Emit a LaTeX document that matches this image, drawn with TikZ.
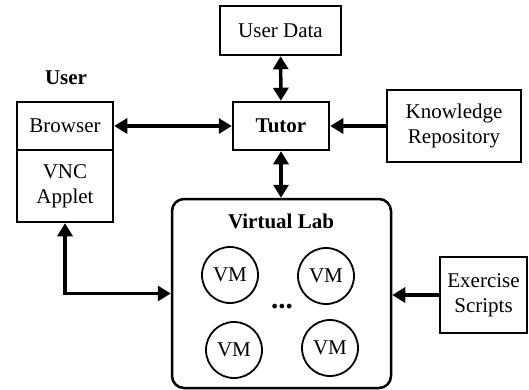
\documentclass[tikz,border=0pt]{standalone}
\usepackage{fontspec}
\setmainfont{Liberation Serif}
\usepackage{tikz}
\usetikzlibrary{arrows.meta}

\begin{document}
\begin{tikzpicture}[x=1pt, y=-1pt,
    every node/.style={font=\fontsize{21}{25}\selectfont, inner sep=0pt},
    box/.style={draw, line width=2.5pt, align=center},
    vm/.style={draw, circle, line width=1.8pt, minimum size=56pt},
    link/.style={line width=3.5pt, {Triangle[length=13pt,width=15pt]}-{Triangle[length=13pt,width=15pt]}},
    feed/.style={line width=3.5pt, -{Triangle[length=13pt,width=15pt]}}]
    \useasboundingbox (0, 0) rectangle (529, 389);
    \node [box, minimum width=121pt, minimum height=49pt] (data) at (280.5, 30.5) {User Data};
    \node [font=\fontsize{21}{25}\selectfont\bfseries] (user) at (66, 78) {User};
    \node [box, minimum width=96pt, minimum height=48pt] (browser) at (65, 126) {Browser};
    \node [box, minimum width=96pt, minimum height=72pt] (applet) at (65, 186) {VNC\\Applet};
    \node [box, minimum width=96pt, minimum height=48pt, font=\fontsize{21}{25}\selectfont\bfseries] (tutor) at (281, 126) {Tutor};
    \node [box, minimum width=134pt, minimum height=72pt] (know) at (454, 126) {Knowledge\\Repository};
    \node [box, rounded corners=12pt, minimum width=219pt, minimum height=189pt] (vlab) at (281.5, 293.5) {};
    \node [font=\fontsize{21}{25}\selectfont\bfseries] (vlabtitle) at (281, 221) {Virtual Lab};
    \node [vm] (vm1) at (230, 275) {VM};
    \node [vm] (vm2) at (326, 276) {VM};
    \node [vm] (vm3) at (234, 350) {VM};
    \node [vm] (vm4) at (330, 348) {VM};
    \node [font=\fontsize{29}{30}\selectfont\bfseries] (dots) at (282, 307) {...};
    \node [box, minimum width=87pt, minimum height=76pt] (scripts) at (483.5, 295) {Exercise\\Scripts};
    \draw [link] (browser) -- (tutor);
    \draw [link] (data) -- (tutor);
    \draw [link] (tutor) -- (tutor |- vlab.north);
    \draw [feed] (know) -- (tutor);
    \draw [feed] (scripts.west) -- (scripts.west -| vlab.east);
    \draw [link] (applet.south) |- (vlab.west);
  \end{tikzpicture}
\end{document}
